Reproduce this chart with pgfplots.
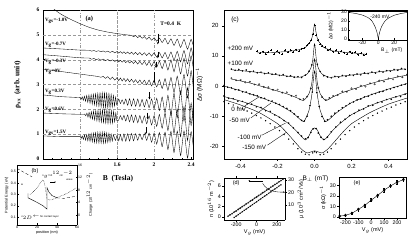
\documentclass[border=0pt]{standalone}
\usepackage{pgfplots}
\pgfplotsset{compat=1.18}
\usepackage{fontspec}
\setmainfont{Liberation Serif}
\setsansfont{Liberation Sans}
\usetikzlibrary{arrows.meta}
\pgfplotsset{
  panel/.style={scale only axis, anchor=south west, axis line style={line width=0.45pt}, tick style={line width=0.35pt, black}, major tick length=2pt, minor tick length=1.2pt, /pgf/number format/assume math mode=true},
  sanspanel/.style={panel, tick align=outside, ticklabel style={font=\sffamily\fontsize{6}{7}\selectfont}, label style={font=\sffamily\fontsize{6.5}{7.5}\selectfont}},
  rho/.style={black, line width=0.35pt, smooth, tension=0.3},
  fit/.style={black, line width=0.4pt, smooth, tension=0.35},
}
\begin{document}
\begin{tikzpicture}[x=1pt,y=1pt]
\useasboundingbox (0,0) rectangle (415,245);

% ---------------- panel (a)
\begin{axis}[panel, at={(43pt,86pt)}, width=150pt, height=149pt,
  xmin=0.8, xmax=2.42, ymin=0, ymax=6,
  xtick={0.8,1.2,1.6,2.0,2.4}, xticklabels={,,1.6,2,2.4}, minor x tick num=3,
  ytick={0,1,2,3,4,5,6}, tick pos=left, tick align=inside,
  ticklabel style={font=\bfseries\fontsize{5.5}{6}\selectfont},
  xlabel={\textbf{B\ \ (Tesla)}}, ylabel={\textbf{ρ$_{\mathbf{xx}}$\ \ (arb. unit)}},
  label style={font=\bfseries\fontsize{7.5}{8}\selectfont},
  ylabel style={at={(axis description cs:-0.17,0.5)}, anchor=center},
  xlabel style={yshift=-2pt},
  clip=true]
\foreach \yy in {1,2,3,4,5} {\edef\tmp{\noexpand\draw[gray!80, densely dashed, line width=0.25pt] (axis cs:0.8,\yy) -- (axis cs:2.42,\yy);}\tmp}
\draw[gray!80, dashdotted, line width=0.25pt] (axis cs:1.2,0) -- (axis cs:1.2,6);
\draw[gray!80, densely dotted, line width=0.3pt] (axis cs:1.6,0) -- (axis cs:1.6,6);
\draw[gray!80, dashdotted, line width=0.25pt] (axis cs:2.0,0) -- (axis cs:2.0,6);
\addplot[rho] coordinates {(0.85,6.3)(0.93,6.0)(1.0,5.82)(1.1,5.62)(1.2,5.45)(1.3,5.3)(1.4,5.19)(1.5,5.11)(1.6,5.05)(1.7,5.0)(1.756,4.98)(1.778,4.925)(1.800,4.97)(1.823,4.89)(1.846,4.95)(1.870,4.86)(1.895,4.93)(1.920,4.82)(1.946,4.91)(1.973,4.78)(2.000,4.885)(2.028,4.74)(2.057,4.87)(2.087,4.69)(2.118,4.86)(2.149,4.63)(2.182,4.84)(2.215,4.57)(2.250,4.83)(2.286,4.49)(2.323,4.82)(2.361,4.42)(2.400,4.82)(2.440,4.34)};
\addplot[rho] coordinates {(0.8,4.47)(1.0,4.43)(1.2,4.385)(1.30,4.38)(1.325,4.344)(1.35,4.368)(1.375,4.332)(1.40,4.36)(1.425,4.32)(1.45,4.352)(1.475,4.305)(1.50,4.345)(1.525,4.29)(1.55,4.34)(1.575,4.275)(1.600,4.33)(1.618,4.266)(1.636,4.323)(1.655,4.254)(1.674,4.316)(1.694,4.243)(1.714,4.31)(1.735,4.228)(1.756,4.302)(1.778,4.213)(1.800,4.295)(1.823,4.197)(1.846,4.289)(1.870,4.18)(1.895,4.28)(1.920,4.165)(1.946,4.275)(1.973,4.14)(2.000,4.28)(2.028,4.103)(2.057,4.286)(2.087,4.068)(2.118,4.291)(2.149,4.03)(2.182,4.31)(2.215,3.976)(2.250,4.338)(2.286,3.909)(2.323,4.369)(2.361,3.83)(2.400,4.48)(2.440,3.69)};
\addplot[rho] coordinates {(0.8,4.2)(1.0,4.14)(1.2,4.075)(1.30,4.064)(1.325,4.016)(1.35,4.05)(1.375,3.998)(1.40,4.036)(1.425,3.98)(1.45,4.023)(1.475,3.963)(1.50,4.008)(1.525,3.945)(1.55,3.994)(1.575,3.928)(1.600,3.98)(1.618,3.913)(1.636,3.972)(1.655,3.899)(1.674,3.963)(1.694,3.883)(1.714,3.954)(1.735,3.866)(1.756,3.945)(1.778,3.846)(1.800,3.938)(1.823,3.825)(1.846,3.933)(1.870,3.8)(1.895,3.93)(1.920,3.77)(1.946,3.932)(1.973,3.735)(2.000,3.925)(2.028,3.696)(2.057,3.942)(2.087,3.638)(2.118,3.968)(2.149,3.58)(2.182,3.99)(2.215,3.51)(2.250,4.025)(2.286,3.426)(2.323,4.06)(2.361,3.34)(2.400,4.15)(2.440,3.2)};
\addplot[rho] coordinates {(0.8,3.62)(1.0,3.52)(1.2,3.42)(1.3,3.37)(1.40,3.32)(1.425,3.29)(1.45,3.325)(1.475,3.245)(1.50,3.32)(1.525,3.205)(1.55,3.3)(1.575,3.175)(1.600,3.28)(1.618,3.152)(1.636,3.265)(1.655,3.137)(1.674,3.249)(1.694,3.12)(1.714,3.232)(1.735,3.103)(1.756,3.214)(1.778,3.084)(1.800,3.195)(1.823,3.06)(1.846,3.185)(1.870,3.03)(1.895,3.175)(1.920,2.99)(1.946,3.183)(1.973,2.94)(2.000,3.17)(2.028,2.903)(2.057,3.196)(2.087,2.838)(2.118,3.24)(2.149,2.763)(2.182,3.285)(2.215,2.686)(2.250,3.338)(2.286,2.589)(2.323,3.409)(2.361,2.46)(2.400,3.55)(2.440,2.28)};
\addplot[rho] coordinates {(0.8,2.58)(1.0,2.51)(1.200,2.47)(1.212,2.406)(1.224,2.502)(1.236,2.363)(1.248,2.529)(1.260,2.32)(1.272,2.557)(1.284,2.278)(1.296,2.579)(1.308,2.24)(1.320,2.596)(1.332,2.207)(1.344,2.613)(1.356,2.179)(1.368,2.63)(1.380,2.147)(1.392,2.648)(1.404,2.114)(1.416,2.66)(1.428,2.086)(1.440,2.672)(1.452,2.068)(1.464,2.664)(1.476,2.06)(1.488,2.656)(1.500,2.052)(1.512,2.639)(1.524,2.065)(1.536,2.611)(1.548,2.087)(1.560,2.563)(1.572,2.129)(1.584,2.495)(1.596,2.181)(1.618,2.415)(1.636,2.231)(1.655,2.386)(1.674,2.202)(1.694,2.417)(1.714,2.162)(1.735,2.426)(1.756,2.131)(1.778,2.426)(1.800,2.12)(1.823,2.414)(1.846,2.109)(1.870,2.403)(1.895,2.096)(1.920,2.4)(1.946,2.064)(1.973,2.417)(2.000,2.02)(2.028,2.445)(2.057,1.95)(2.087,2.495)(2.118,1.87)(2.149,2.564)(2.182,1.768)(2.215,2.652)(2.250,1.656)(2.286,2.75)(2.323,1.523)(2.361,2.877)(2.400,1.35)(2.440,3.02)};
\addplot[rho] coordinates {(0.8,1.85)(1.0,1.82)(1.2,1.8)(1.250,1.805)(1.262,1.741)(1.274,1.848)(1.286,1.684)(1.298,1.881)(1.310,1.637)(1.322,1.908)(1.334,1.6)(1.346,1.926)(1.358,1.568)(1.370,1.949)(1.382,1.535)(1.394,1.962)(1.406,1.508)(1.418,1.975)(1.430,1.481)(1.442,1.987)(1.454,1.459)(1.466,1.99)(1.478,1.442)(1.490,1.993)(1.502,1.429)(1.514,1.981)(1.526,1.432)(1.538,1.959)(1.550,1.445)(1.562,1.921)(1.574,1.488)(1.586,1.854)(1.598,1.541)(1.618,1.574)(1.636,1.748)(1.655,1.572)(1.674,1.756)(1.694,1.529)(1.714,1.773)(1.735,1.496)(1.756,1.779)(1.778,1.472)(1.800,1.765)(1.823,1.458)(1.846,1.75)(1.870,1.442)(1.895,1.734)(1.920,1.416)(1.946,1.738)(1.973,1.369)(2.000,1.75)(2.028,1.313)(2.057,1.796)(2.087,1.238)(2.118,1.85)(2.149,1.143)(2.182,1.925)(2.215,1.026)(2.250,2.008)(2.286,0.899)(2.323,2.109)(2.361,0.74)(2.400,2.25)(2.440,0.56)};
\addplot[rho] coordinates {(0.8,0.93)(1.0,0.9)(1.200,0.90)(1.212,0.824)(1.224,0.929)(1.236,0.788)(1.248,0.963)(1.260,0.757)(1.272,0.986)(1.284,0.731)(1.296,1.01)(1.308,0.71)(1.320,1.029)(1.332,0.688)(1.344,1.048)(1.356,0.667)(1.368,1.062)(1.380,0.651)(1.392,1.075)(1.404,0.64)(1.416,1.079)(1.428,0.639)(1.440,1.078)(1.452,0.637)(1.464,1.072)(1.476,0.646)(1.488,1.056)(1.500,0.665)(1.512,1.034)(1.524,0.689)(1.536,1.003)(1.548,0.723)(1.560,0.972)(1.582,0.747)(1.600,0.95)(1.618,0.733)(1.636,0.986)(1.655,0.719)(1.674,1.012)(1.694,0.716)(1.714,1.019)(1.735,0.723)(1.756,1.026)(1.778,0.73)(1.800,1.023)(1.823,0.757)(1.846,1.011)(1.870,0.775)(1.895,1.019)(1.920,0.75)(1.946,1.047)(1.973,0.674)(2.000,1.05)(2.028,0.599)(2.057,1.067)(2.087,0.495)(2.118,1.082)(2.149,0.378)(2.182,1.114)(2.215,0.259)(2.250,1.123)(2.286,0.136)(2.323,1.128)(2.361,0.039)(2.400,1.1)(2.440,-0.04)};
\begin{scope}[font=\bfseries\fontsize{5}{6}\selectfont, inner sep=0.5pt]
\node[anchor=west] at (axis cs:0.815,5.56) {V$_{\mathbf{gs}}$=-1.0V};
\node[anchor=west] at (axis cs:0.815,4.6) {V$_{\mathbf{g}}$=-0.7V};
\node[anchor=west] at (axis cs:0.815,3.92) {V$_{\mathbf{g}}$=-0.3V};
\node[anchor=west] at (axis cs:0.815,3.52) {V$_{\mathbf{g}}$=0V};
\node[anchor=west] at (axis cs:0.815,2.72) {V$_{\mathbf{g}}$=0.3V};
\node[anchor=west] at (axis cs:0.815,1.96) {V$_{\mathbf{g}}$=0.6V};
\node[anchor=west] at (axis cs:0.815,1.07) {V$_{\mathbf{gs}}$=1.5V};
\end{scope}
\node[font=\bfseries\fontsize{6.5}{7}\selectfont] at (axis cs:1.3,5.62) {(a)};
\node[font=\bfseries\fontsize{5.5}{6}\selectfont, anchor=west] at (axis cs:2.03,5.45) {T=0.4\ \ K};
\begin{scope}[-{Stealth[length=2.2pt,width=2pt]}, line width=0.45pt]
\draw (axis cs:2.04,5.05) -- (axis cs:2.04,4.62);
\draw (axis cs:2.04,4.32) -- (axis cs:2.04,4.06);
\draw (axis cs:2.02,3.92) -- (axis cs:2.02,3.67);
\draw (axis cs:2.00,3.5) -- (axis cs:2.00,3.06);
\draw (axis cs:1.95,2.68) -- (axis cs:1.95,2.4);
\draw (axis cs:1.93,1.87) -- (axis cs:1.93,1.6);
\draw (axis cs:1.91,1.27) -- (axis cs:1.91,0.99);
\end{scope}
\end{axis}

% ---------------- panel (b)
\begin{axis}[panel, at={(17pt,20pt)}, width=60pt, height=60pt,
  xmin=0, xmax=60, ymin=0.03, ymax=0.56, axis y line*=left,
  xtick={0,20,40,60}, ytick={0.1,0.2,0.3,0.4,0.5}, tick align=inside, major tick length=1.5pt,
  ticklabel style={font=\sffamily\fontsize{3.5}{4}\selectfont, inner sep=1pt},
  xlabel={position (nm)}, ylabel={Potential Energy (eV)},
  label style={font=\sffamily\fontsize{3.8}{4.2}\selectfont},
  xlabel style={yshift=2pt}, ylabel style={yshift=-2pt}, clip=true]
\addplot[black, densely dashed, line width=0.3pt] coordinates {(0,0.53)(5,0.505)(10,0.48)(15,0.455)};
\addplot[black, densely dotted, line width=0.45pt] coordinates {(13,0.30)(17,0.33)(21,0.37)(24,0.41)(26,0.43)(27.5,0.40)(29,0.32)(30,0.26)(33,0.25)(37,0.26)(42,0.28)(48,0.3)(54,0.33)(60,0.36)};
\addplot[black, line width=0.4pt] coordinates {(11,0.31)(11,0.27)(20,0.23)(26,0.2)(30,0.17)(30,0.36)(32,0.32)(35,0.29)(40,0.27)};
\addplot[black, densely dashed, line width=0.3pt] coordinates {(40,0.27)(47,0.265)(53,0.275)(60,0.285)};
\node[font=\sffamily\fontsize{5.5}{6}\selectfont] at (axis cs:18,0.51) {(b)};
\node[font=\sffamily\fontsize{2.6}{3}\selectfont, align=right, anchor=north east] at (axis cs:59,0.54) {n$_g$=10$^{12}$cm$^{-2}$\\ wave};
\node[font=\sffamily\fontsize{3}{3.5}\selectfont] at (axis cs:5,0.39) {a};
\node[font=\sffamily\fontsize{2.6}{3}\selectfont, anchor=south west] at (axis cs:1,0.05) {n$_{2D}$$\leftarrow$\ for contact layer};
\draw[-{Stealth[length=1.5pt]}, line width=0.35pt] (axis cs:33,0.41) -- (axis cs:39,0.41);
\end{axis}
\begin{axis}[panel, at={(17pt,20pt)}, width=60pt, height=60pt,
  xmin=0, xmax=60, ymin=-3.2, ymax=16, axis y line*=right, axis x line=none,
  ytick={0,4,8,12,16}, tick align=inside, major tick length=1.5pt,
  ticklabel style={font=\sffamily\fontsize{3.5}{4}\selectfont, inner sep=1pt},
  ylabel={Charge (10$^{12}$ cm$^{-2}$)},
  label style={font=\sffamily\fontsize{3.8}{4.2}\selectfont}]
\end{axis}

% ---------------- panel (c)
\begin{axis}[sanspanel, at={(224pt,86pt)}, width=183pt, height=149pt,
  xmin=-0.49, xmax=0.5, ymin=-24.2, ymax=25.2,
  xtick={-0.4,-0.2,0,0.2,0.4}, xticklabels={-0.4,-0.2,0.0,0.2,0.4},
  ytick={-20,-10,0,10,20}, tick pos=left,
  xlabel={B$_\perp$ (mT)}, ylabel={Δσ (MΩ)$^{-1}$}, clip=true]
% +200 mV
\addplot[only marks, mark=+, mark size=1pt, mark options={line width=0.3pt}] coordinates {(-0.31,11.6)(-0.295,10.8)(-0.28,11.4)(-0.265,10.6)(-0.25,11.3)(-0.235,11.9)(-0.22,10.7)(-0.205,11.5)(-0.19,11.1)(-0.175,10.5)(-0.16,11.8)(-0.145,11.2)(-0.13,11.9)(-0.115,11.3)(-0.1,12.1)(-0.085,11.6)(-0.07,12.4)(-0.055,12.6)(-0.04,13.5)(-0.03,14.1)(-0.02,15.3)(-0.01,17.2)(0,20.3)(0.01,16.8)(0.02,15.1)(0.03,13.9)(0.04,13.2)(0.055,12.9)(0.07,12.0)(0.085,12.3)(0.1,11.4)(0.115,11.9)(0.13,10.9)(0.145,11.6)(0.16,11.1)(0.175,10.6)(0.19,11.4)(0.205,10.8)(0.22,11.2)(0.235,10.4)(0.25,10.9)(0.265,10.2)(0.28,10.7)};
\addplot[fit] coordinates {(-0.31,11.0)(-0.2,11.2)(-0.1,11.8)(-0.05,12.8)(-0.02,15)(-0.01,17)(0,20.5)(0.01,17)(0.02,15)(0.05,12.8)(0.1,11.6)(0.2,11)(0.28,10.5)};
% +100 mV
\addplot[only marks, mark=*, mark size=0.55pt] coordinates {(-0.45,5.6)(-0.43,5.2)(-0.41,5.5)(-0.39,5.0)(-0.37,5.3)(-0.35,4.7)(-0.33,4.9)(-0.31,4.4)(-0.29,4.6)(-0.27,4.1)(-0.25,4.4)(-0.23,3.9)(-0.21,4.0)(-0.19,3.5)(-0.17,3.8)(-0.15,3.2)(-0.13,3.4)(-0.11,2.9)(-0.09,3.1)(-0.07,2.8)(-0.05,3.6)(-0.03,4.9)(-0.015,7.0)(0,13.5)(0.015,7.2)(0.03,4.8)(0.05,3.4)(0.07,3.0)(0.09,2.7)(0.11,3.2)(0.13,2.9)(0.15,3.5)(0.17,3.2)(0.19,3.7)(0.21,3.5)(0.23,4.0)(0.25,3.7)(0.27,4.3)(0.29,4.1)(0.31,4.6)(0.33,4.3)(0.35,4.9)(0.37,4.6)(0.39,5.1)(0.41,4.9)(0.43,5.5)(0.45,5.2)(0.47,5.8)(0.49,5.5)};
\addplot[fit] coordinates {(-0.45,5.4)(-0.35,4.8)(-0.25,4.1)(-0.15,3.3)(-0.08,2.9)(-0.04,4.0)(-0.02,6.0)(-0.01,8.5)(0,14)(0.01,8.5)(0.02,6.0)(0.04,4.0)(0.08,2.9)(0.15,3.3)(0.25,4.0)(0.35,4.7)(0.45,5.4)(0.49,5.7)};
% 0 mV (open)
\addplot[only marks, mark=o, mark size=0.8pt, mark options={line width=0.25pt}] coordinates {(-0.45,2.6)(-0.425,1.9)(-0.40,2.0)(-0.375,1.2)(-0.35,1.4)(-0.325,0.5)(-0.30,0.6)(-0.275,-0.3)(-0.25,-0.4)(-0.225,-1.3)(-0.20,-1.2)(-0.175,-2.2)(-0.15,-2.1)(-0.125,-3.3)(-0.10,-3.2)(-0.08,-4.4)(-0.06,-4.3)(-0.04,-3.5)(-0.02,-0.8)(0,8.5)(0.02,-0.6)(0.04,-3.7)(0.06,-4.6)(0.08,-4.0)(0.10,-3.3)(0.125,-3.0)(0.15,-1.8)(0.175,-1.9)(0.20,-0.8)(0.225,-1.0)(0.25,0.1)(0.275,-0.2)(0.30,0.9)(0.325,0.6)(0.35,1.8)(0.375,1.5)(0.40,2.5)(0.425,2.2)(0.45,3.2)(0.475,2.9)(0.50,3.8)};
\addplot[fit] coordinates {(-0.45,2.3)(-0.35,1.0)(-0.25,-0.8)(-0.15,-2.6)(-0.1,-3.8)(-0.06,-4.8)(-0.03,-2.5)(-0.015,1)(0,9)(0.015,1)(0.03,-2.5)(0.06,-4.8)(0.1,-3.6)(0.15,-2.2)(0.25,-0.2)(0.35,1.6)(0.45,3.0)(0.5,3.6)};
% -50 mV
\addplot[only marks, mark=*, mark size=0.55pt] coordinates {(-0.49,0.2)(-0.47,-0.4)(-0.45,-0.6)(-0.43,-1.2)(-0.41,-1.3)(-0.39,-1.9)(-0.37,-2.0)(-0.35,-2.6)(-0.33,-2.9)(-0.31,-3.2)(-0.29,-3.9)(-0.27,-4.1)(-0.25,-4.8)(-0.23,-5.0)(-0.21,-5.7)(-0.19,-6.1)(-0.17,-6.8)(-0.15,-7.4)(-0.13,-8.2)(-0.11,-9.3)(-0.09,-10.2)(-0.07,-11.4)(-0.055,-11.6)(-0.04,-10.0)(-0.025,-6.5)(-0.012,-2.0)(0,4.5)(0.012,-2.2)(0.025,-6.8)(0.04,-10.1)(0.055,-11.7)(0.07,-11.2)(0.09,-10.0)(0.11,-9.0)(0.13,-8.2)(0.15,-7.2)(0.17,-6.6)(0.19,-5.8)(0.21,-5.3)(0.23,-4.6)(0.25,-4.3)(0.27,-3.6)(0.29,-3.4)(0.31,-2.8)(0.33,-2.5)(0.35,-2.0)(0.37,-1.8)(0.39,-1.2)(0.41,-1.0)(0.43,-0.5)(0.45,-0.2)(0.47,0.3)(0.49,0.6)};
\addplot[fit] coordinates {(-0.49,0)(-0.4,-1.6)(-0.3,-3.6)(-0.2,-6)(-0.12,-8.8)(-0.06,-11.8)(-0.03,-8)(-0.015,-3)(0,5)(0.015,-3)(0.03,-8)(0.06,-11.8)(0.12,-8.8)(0.2,-5.5)(0.3,-3)(0.4,-1)(0.5,0.8)};
% -100 mV
\addplot[only marks, mark=*, mark size=0.55pt] coordinates {(-0.49,-3.3)(-0.465,-4.1)(-0.44,-4.2)(-0.415,-5.0)(-0.39,-5.1)(-0.365,-5.9)(-0.34,-6.0)(-0.315,-6.9)(-0.29,-7.1)(-0.265,-8.2)(-0.24,-8.4)(-0.215,-9.6)(-0.19,-10.4)(-0.165,-11.5)(-0.14,-12.3)(-0.115,-13.9)(-0.09,-15.4)(-0.07,-16.6)(-0.05,-17.5)(-0.035,-17.1)(-0.02,-15.4)(-0.008,-14.2)(0.008,-14.1)(0.02,-15.6)(0.035,-17.0)(0.05,-17.7)(0.07,-16.9)(0.09,-15.2)(0.115,-13.6)(0.14,-12.0)(0.165,-11.0)(0.19,-9.8)(0.215,-9.1)(0.24,-8.0)(0.265,-7.6)(0.29,-6.6)(0.315,-6.4)(0.34,-5.5)(0.365,-5.3)(0.39,-4.5)(0.415,-4.4)(0.44,-3.6)(0.465,-3.5)(0.49,-2.7)};
\addplot[fit] coordinates {(-0.49,-3.5)(-0.4,-5)(-0.3,-7)(-0.2,-10)(-0.14,-12.5)(-0.1,-14.8)(-0.07,-16.8)(-0.05,-17.9)(-0.03,-16.5)(-0.015,-14.6)(0,-13.9)(0.015,-14.6)(0.03,-16.5)(0.05,-17.9)(0.07,-16.8)(0.1,-14.6)(0.14,-12.3)(0.2,-9.5)(0.3,-6.5)(0.4,-4.3)(0.5,-2.5)};
% -150 mV
\addplot[only marks, mark=*, mark size=0.45pt] coordinates {(-0.49,-5.2)(-0.465,-5.8)(-0.44,-6.3)(-0.415,-7.0)(-0.39,-7.6)(-0.365,-8.3)(-0.34,-9.0)(-0.315,-9.8)(-0.29,-10.6)(-0.265,-11.5)(-0.24,-12.5)(-0.215,-13.6)(-0.19,-14.8)(-0.165,-16.1)(-0.14,-17.6)(-0.115,-19.2)(-0.09,-20.8)(-0.07,-21.9)(-0.05,-22.6)(-0.03,-22.8)(-0.01,-22.2)(0,-21.8)(0.01,-22.1)(0.03,-22.8)(0.05,-22.6)(0.07,-21.9)(0.09,-20.8)(0.115,-19.2)(0.14,-17.6)(0.165,-16.1)(0.19,-14.8)(0.215,-13.6)(0.24,-12.5)(0.265,-11.5)(0.29,-10.6)(0.315,-9.8)(0.34,-9.0)(0.365,-8.3)(0.39,-7.6)(0.415,-7.0)(0.44,-6.3)(0.465,-5.8)(0.49,-5.2)};
\addplot[fit] coordinates {(-0.49,-4.5)(-0.4,-6.3)(-0.3,-8.8)(-0.2,-12.5)(-0.15,-15.5)(-0.1,-19)(-0.07,-21)(-0.04,-22.2)(0,-21.5)(0.04,-22.2)(0.07,-21)(0.1,-19)(0.15,-15.5)(0.2,-12.5)(0.3,-8.8)(0.4,-6.0)(0.5,-4.0)};
\begin{scope}[font=\sffamily\fontsize{6.3}{7}\selectfont, inner sep=0.6pt]
\node[anchor=west] at (axis cs:-0.475,12.6) {+200 mV};
\node[anchor=west] at (axis cs:-0.475,7.6) {+100 mV};
\node[anchor=west] at (axis cs:-0.455,-7.6) {0 mV};
\node[anchor=west] at (axis cs:-0.465,-11.3) {-50 mV};
\node[anchor=west] at (axis cs:-0.42,-17.0) {-100 mV};
\node[anchor=west] at (axis cs:-0.395,-20.3) {-150 mV};
\end{scope}
\draw[line width=0.35pt] (axis cs:-0.385,-6.9) -- (axis cs:-0.30,-3.6);
\draw[line width=0.35pt] (axis cs:-0.345,-10.6) -- (axis cs:-0.235,-5.6);
\draw[line width=0.35pt] (axis cs:-0.285,-16.3) -- (axis cs:-0.157,-12.3);
\draw[line width=0.35pt] (axis cs:-0.255,-19.6) -- (axis cs:-0.151,-15.3);
\node[font=\sffamily\fontsize{6.5}{7}\selectfont] at (axis cs:-0.43,21.8) {(c)};
\end{axis}

% ---------------- inset of (c)
\begin{axis}[sanspanel, at={(348pt,205pt)}, width=59pt, height=29pt,
  xmin=-38, xmax=36, ymin=-1, ymax=31, tick align=inside, tick pos=left,
  xtick={-20,0,20}, ytick={0,10,20,30},
  axis background/.style={fill=white},
  ticklabel style={font=\sffamily\fontsize{5}{6}\selectfont, inner sep=1pt},
  label style={font=\sffamily\fontsize{5}{6}\selectfont},
  xlabel={B$_\perp$ (mT)}, ylabel={Δσ (MΩ)$^{-1}$},
  xlabel style={at={(axis description cs:0.74,-0.36)}, anchor=center},
  ylabel style={at={(axis description cs:-0.3,0.5)}, anchor=center}]
\addplot[fit, tension=0.4] coordinates {(-38,29.5)(-30,28.5)(-20,26.5)(-12.5,23.5)(-8,20)(-4,13.5)(-2,8.5)(-1,5)(0,0.5)(1,5)(2,8.5)(4,13.5)(8,19.5)(12.5,23)(20,26.3)(30,28.5)(36,29.3)};
\node[font=\sffamily\fontsize{5}{6}\selectfont] at (axis cs:2,24.5) {-240 mV};
\end{axis}

% ---------------- panel (d)
\begin{axis}[sanspanel, at={(224pt,25pt)}, width=61pt, height=42pt,
  xmin=-320, xmax=280, ymin=-0.58, ymax=7.54, axis y line*=left,
  xtick={-200,0,200}, ytick={0,2,4,6},
  ticklabel style={font=\sffamily\fontsize{5.3}{6}\selectfont, inner sep=1pt},
  label style={font=\sffamily\fontsize{5.5}{6}\selectfont},
  xlabel={V$_g$ (mV)}, ylabel={n (10$^{16}$ m$^{-2}$)}, xlabel style={yshift=2pt}, ylabel style={yshift=-1pt}]
\addplot[black, line width=0.35pt, mark=o, mark size=0.75pt, mark options={line width=0.25pt}] coordinates {(-280,0.15)(-260,0.42)(-240,0.65)(-220,0.95)(-200,1.18)(-180,1.48)(-160,1.72)(-140,2.02)(-120,2.24)(-100,2.55)(-80,2.78)(-60,3.08)(-40,3.31)(-20,3.62)(0,3.84)(20,4.14)(40,4.37)(60,4.68)(80,4.9)(100,5.21)(120,5.43)(140,5.74)(160,5.97)(180,6.27)(200,6.5)(220,6.8)(240,7.03)(260,7.3)};
\node[font=\sffamily\fontsize{5.5}{6}\selectfont] at (axis cs:-200,6.6) {(d)};
\draw[-{Stealth[length=1.8pt]}, line width=0.35pt] (axis cs:60,7.0) -- (axis cs:-80,7.0);
\draw[-{Stealth[length=1.8pt]}, line width=0.35pt] (axis cs:60,6.5) to[out=-60,in=180] (axis cs:280,4.8);
\end{axis}
\begin{axis}[sanspanel, at={(224pt,25pt)}, width=61pt, height=42pt,
  xmin=-320, xmax=280, ymin=-2, ymax=31.6, axis y line*=right, axis x line=none,
  ytick={10,20,30},
  ticklabel style={font=\sffamily\fontsize{5.3}{6}\selectfont, inner sep=1pt},
  label style={font=\sffamily\fontsize{5.5}{6}\selectfont},
  ylabel={μ (10$^3$ cm$^2$/Vs)}, ylabel style={yshift=1pt}]
\addplot[black, line width=0.35pt, mark=x, mark size=0.8pt, mark options={line width=0.3pt}] coordinates {(-220,0.0)(-200,1.1)(-180,2.3)(-160,3.4)(-140,4.6)(-120,5.7)(-100,6.8)(-80,8.0)(-60,9.1)(-40,10.3)(-20,11.4)(0,12.5)(20,13.7)(40,14.8)(60,16.0)(80,17.1)(100,18.2)(120,19.4)(140,20.5)(160,21.7)(180,22.8)(200,23.9)(220,25.1)(240,26.2)};
\end{axis}

% ---------------- panel (e)
\begin{axis}[sanspanel, at={(339pt,27pt)}, width=67pt, height=41pt,
  xmin=-250, xmax=270, ymin=-1, ymax=38, tick pos=left,
  xtick={-200,-100,0,100,200}, ytick={0,10,20,30},
  ticklabel style={font=\sffamily\fontsize{5.3}{6}\selectfont, inner sep=1pt},
  label style={font=\sffamily\fontsize{5.5}{6}\selectfont},
  xlabel={V$_g$ (mV)}, ylabel={σ (kΩ)$^{-1}$}, xlabel style={yshift=2pt}, ylabel style={yshift=-1pt}]
\addplot[black, line width=0.4pt, mark=diamond*, mark size=1.4pt, error bars/.cd, y dir=both, y explicit, error bar style={line width=0.35pt}, error mark options={mark size=0.8pt, rotate=90}] coordinates {(-245,0.8)+-(0,1.2)(-200,1.5)+-(0,1.2)(-150,3.5)+-(0,1.3)(-100,7.2)+-(0,1.4)(-50,11)+-(0,1.5)(0,16)+-(0,1.5)(50,20.5)+-(0,1.5)(100,25.5)+-(0,1.5)(150,29.5)+-(0,1.5)(200,33)+-(0,1.5)(250,35.5)+-(0,1.5)};
\node[font=\sffamily\fontsize{5.5}{6}\selectfont] at (axis cs:-110,32.3) {(e)};
\end{axis}
\end{tikzpicture}
\end{document}
